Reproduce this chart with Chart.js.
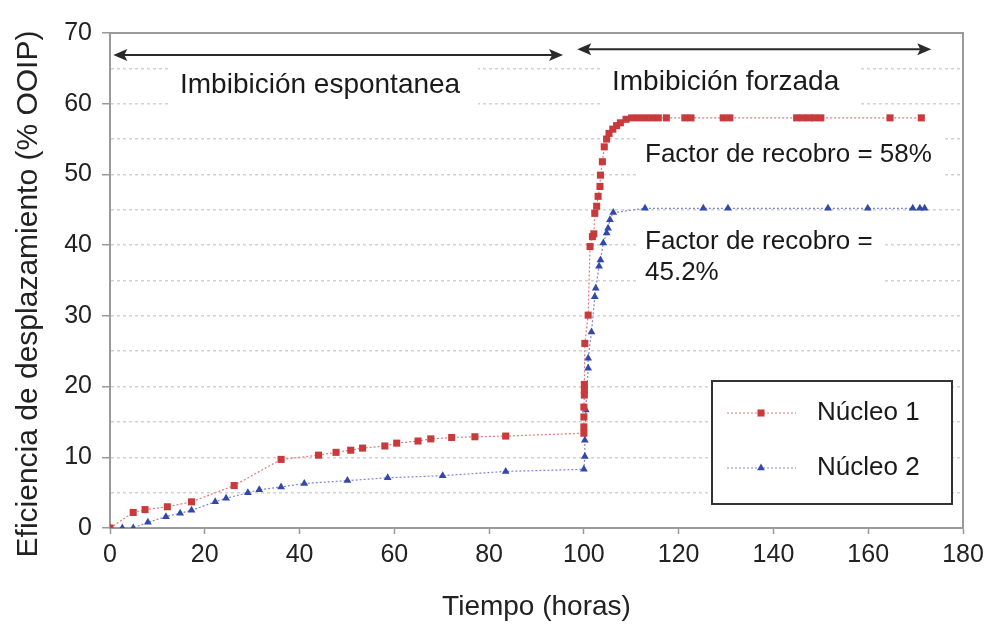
<!DOCTYPE html>
<html>
<head>
<meta charset="utf-8">
<script src="https://cdn.jsdelivr.net/npm/chart.js@4.4.0/dist/chart.umd.min.js"></script>
<style>
  html, body { margin: 0; padding: 0; background: #fff; }
  #wrap { width: 996px; height: 626px; }
</style>
</head>
<body>
<div id="wrap"><canvas id="grafico" width="996" height="626"></canvas></div>
<script>
const nucleo1Tiempo = [0, 4.9, 7.4, 12.1, 17.2, 26.2, 36.1, 44.0, 47.7, 50.8, 53.3, 58.0, 60.5, 65.0, 67.7, 72.1, 77.0, 83.5,
  100.0, 100.0, 100.0, 100.0, 100.1, 100.1, 100.1, 100.2, 100.9, 101.3, 101.8, 102.1, 102.3, 102.7, 103.0, 103.4, 103.5,
  103.9, 104.3, 104.8, 105.3, 106.1, 106.9, 107.7, 108.9, 110.1, 111.5, 112.9, 114.3, 115.7, 117.4, 121.3, 122.6,
  129.4, 130.8, 144.9, 146.2, 147.5, 148.7, 150.0, 164.6, 171.2];
const nucleo1Eficiencia = [0, 2.2, 2.6, 3.0, 3.7, 6.0, 9.7, 10.3, 10.7, 11.0, 11.3, 11.6, 12.0, 12.3, 12.6, 12.8, 12.9, 13.0,
  13.4, 14.3, 15.7, 17.1, 18.8, 19.5, 20.3, 26.1, 30.1, 39.8, 41.2, 41.6, 44.5, 45.5, 46.9, 48.3, 49.9,
  51.8, 53.9, 55.0, 55.8, 56.4, 56.9, 57.3, 57.8, 58.0, 58.0, 58.0, 58.0, 58.0, 58.0, 58.0, 58.0,
  58.0, 58.0, 58.0, 58.0, 58.0, 58.0, 58.0, 58.0, 58.0];

const nucleo2Tiempo = [0, 2.6, 4.9, 8.0, 11.8, 14.8, 17.2, 22.2, 24.5, 29.1, 31.5, 36.1, 41.0, 50.1, 58.6, 70.2, 83.5,
  100.0, 100.2, 100.2, 100.4, 100.9, 100.9, 101.6, 102.3, 102.5, 103.2, 103.5, 104.1, 104.8, 105.1, 105.5, 106.2,
  112.9, 125.2, 130.4, 151.5, 159.9, 169.4, 170.9, 171.9];
const nucleo2Eficiencia = [0, 0, 0, 0.8, 1.6, 2.1, 2.5, 3.7, 4.2, 5.0, 5.4, 5.8, 6.3, 6.7, 7.1, 7.4, 8.0,
  8.3, 10.1, 12.4, 16.7, 22.6, 24.0, 27.7, 32.7, 33.9, 37.0, 37.9, 40.3, 41.7, 42.4, 43.6, 44.6,
  45.2, 45.2, 45.2, 45.2, 45.2, 45.2, 45.2, 45.2];

const xTicks = [0, 20, 40, 60, 80, 100, 120, 140, 160, 180];
const yTicks = [0, 10, 20, 30, 40, 50, 60, 70];
const yGrid = [0, 5, 10, 15, 20, 25, 30, 35, 40, 45, 50, 55, 60, 65, 70];

const rojo = '#c83a3c';
const azul = '#3447ad';
const fuente = '"Liberation Sans", Arial, sans-serif';

function puntos(xs, ys) {
  return xs.map((x, i) => ({ x: x, y: ys[i] }));
}

// flecha con punta en los dos extremos
function flecha(ctx, x1, x2, y) {
  ctx.save();
  ctx.strokeStyle = '#2a2a2a';
  ctx.fillStyle = '#2a2a2a';
  ctx.lineWidth = 2;
  ctx.beginPath();
  ctx.moveTo(x1 + 6, y);
  ctx.lineTo(x2 - 6, y);
  ctx.stroke();
  ctx.beginPath();
  ctx.moveTo(x1, y);
  ctx.lineTo(x1 + 14, y - 6);
  ctx.lineTo(x1 + 11, y);
  ctx.lineTo(x1 + 14, y + 6);
  ctx.closePath();
  ctx.fill();
  ctx.beginPath();
  ctx.moveTo(x2, y);
  ctx.lineTo(x2 - 14, y - 6);
  ctx.lineTo(x2 - 11, y);
  ctx.lineTo(x2 - 14, y + 6);
  ctx.closePath();
  ctx.fill();
  ctx.restore();
}

function texto(ctx, str, x, y, size) {
  ctx.save();
  ctx.font = size + 'px ' + fuente;
  ctx.fillStyle = '#1a1a1a';
  ctx.textBaseline = 'middle';
  ctx.textAlign = 'left';
  ctx.fillText(str, x, y);
  ctx.restore();
}

const anotaciones = {
  id: 'anotaciones',
  beforeDatasetsDraw(chart) {
    const ctx = chart.ctx;
    const a = chart.chartArea;
    const sx = chart.scales.x;
    const sy = chart.scales.y;

    // cajas blancas detras de los textos
    ctx.save();
    ctx.fillStyle = '#fff';
    ctx.fillRect(170, 62, 308, 46);
    ctx.fillRect(600, 60, 258, 46);
    ctx.fillRect(636, 133, 306, 46);
    ctx.fillRect(636, 222, 246, 70);
    ctx.restore();

    // marco del grafico
    ctx.save();
    ctx.strokeStyle = '#9a9a9a';
    ctx.lineWidth = 2;
    ctx.strokeRect(a.left, a.top, a.right - a.left, a.bottom - a.top);
    ctx.restore();

    flecha(ctx, sx.getPixelForValue(0.7), sx.getPixelForValue(95.6), sy.getPixelForValue(66.9));
    flecha(ctx, sx.getPixelForValue(98.6), sx.getPixelForValue(173.3), sy.getPixelForValue(67.7));

    texto(ctx, 'Imbibición espontanea', 180, 85, 28);
    texto(ctx, 'Imbibición forzada', 612, 82, 28);
    texto(ctx, 'Factor de recobro = 58%', 645, 155, 26);
    texto(ctx, 'Factor de recobro =', 645, 242, 26);
    texto(ctx, '45.2%', 645, 273, 26);

    // titulo del eje y
    ctx.save();
    ctx.translate(29, 294);
    ctx.rotate(-Math.PI / 2);
    ctx.font = '30px ' + fuente;
    ctx.fillStyle = '#222';
    ctx.textAlign = 'center';
    ctx.textBaseline = 'middle';
    ctx.fillText('Eficiencia de desplazamiento (% OOIP)', 0, 0);
    ctx.restore();
  },
  afterDatasetsDraw(chart) {
    const ctx = chart.ctx;
    const sets = chart.data.datasets;
    ctx.save();
    ctx.fillStyle = '#fff';
    ctx.fillRect(712, 381, 240, 123);
    ctx.strokeStyle = '#333';
    ctx.lineWidth = 2;
    ctx.strokeRect(712, 381, 240, 123);
    ctx.restore();

    const filas = [413, 468];
    sets.forEach((ds, i) => {
      const y = filas[i];
      ctx.save();
      ctx.strokeStyle = ds.borderColor;
      ctx.lineWidth = 1;
      ctx.setLineDash([2, 2]);
      ctx.beginPath();
      ctx.moveTo(727, y);
      ctx.lineTo(796, y);
      ctx.stroke();
      ctx.setLineDash([]);
      ctx.fillStyle = ds.pointBackgroundColor;
      ctx.strokeStyle = ds.pointBorderColor;
      Chart.helpers.drawPoint(ctx, {
        pointStyle: ds.pointStyle,
        radius: ds.pointRadius,
        borderWidth: 0,
        rotation: 0
      }, 761, y);
      ctx.restore();
      texto(ctx, ds.label, 817, y, 26);
    });
  }
};

const ctx = document.getElementById('grafico').getContext('2d');
new Chart(ctx, {
  type: 'scatter',
  data: {
    datasets: [{
      label: 'Núcleo 1',
      data: puntos(nucleo1Tiempo, nucleo1Eficiencia),
      showLine: true,
      borderColor: '#e27a7a',
      borderWidth: 1.2,
      borderDash: [2, 2],
      pointStyle: 'rect',
      pointRadius: 5,
      pointBackgroundColor: rojo,
      pointBorderColor: rojo,
      pointBorderWidth: 0
    }, {
      label: 'Núcleo 2',
      data: puntos(nucleo2Tiempo, nucleo2Eficiencia),
      showLine: true,
      borderColor: '#7b88cf',
      borderWidth: 1.2,
      borderDash: [2, 2],
      pointStyle: 'triangle',
      pointRadius: 4.5,
      pointBackgroundColor: azul,
      pointBorderColor: azul,
      pointBorderWidth: 0
    }]
  },
  options: {
    responsive: false,
    animation: false,
    layout: { padding: { left: 0, right: 33, top: 33, bottom: 0 } },
    plugins: {
      legend: { display: false },
      tooltip: { enabled: false }
    },
    scales: {
      x: {
        type: 'linear',
        min: 0,
        max: 180,
        afterBuildTicks: s => { s.ticks = xTicks.map(v => ({ value: v })); },
        afterFit: s => { s.height = 98; },
        ticks: {
          color: '#222',
          padding: 6,
          font: { family: fuente, size: 25 }
        },
        grid: {
          drawOnChartArea: false,
          drawTicks: true,
          tickLength: 6,
          tickColor: '#9a9a9a',
          tickWidth: 1.5
        },
        border: { color: '#9a9a9a', width: 2 },
        title: {
          display: true,
          text: 'Tiempo (horas)',
          color: '#222',
          padding: { top: 0, bottom: 2 },
          font: { family: fuente, size: 28 }
        }
      },
      y: {
        min: 0,
        max: 70,
        afterBuildTicks: s => { s.ticks = yGrid.map(v => ({ value: v })); },
        afterFit: s => { s.width = 110; },
        ticks: {
          color: '#222',
          padding: 10,
          callback: v => yTicks.includes(v) ? v : '',
          font: { family: fuente, size: 25 }
        },
        grid: {
          color: c => (c.tick && (c.tick.value === 0 || c.tick.value === 70)) ? 'rgba(0,0,0,0)' : '#d2d2d2',
          lineWidth: 1.5,
          tickLength: 8,
          tickColor: c => (c.tick && yTicks.includes(c.tick.value)) ? '#9a9a9a' : 'rgba(0,0,0,0)',
          tickBorderDash: [],
          tickWidth: 1.5
        },
        border: { color: '#9a9a9a', width: 2, dash: [3, 3] }
      }
    }
  },
  plugins: [anotaciones]
});
</script>
</body>
</html>
